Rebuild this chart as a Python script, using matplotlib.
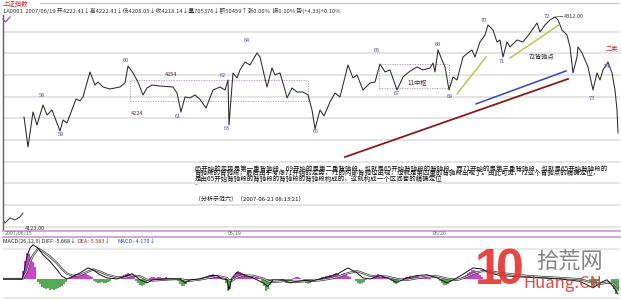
import matplotlib
matplotlib.use('Agg')
import matplotlib.pyplot as plt
from matplotlib.patches import Rectangle
from matplotlib.lines import Line2D

plt.rcParams['font.family'] = ['Noto Sans CJK SC', 'DejaVu Sans']

W, H = 621, 301

# intraday closes (bar position, price)
bars = [24, 28, 33, 37, 43, 47, 52, 55, 60, 63,
        67, 73, 76, 80, 83, 90, 95, 98, 103, 110,
        120, 125, 128, 133, 138, 143, 147, 152, 160, 173,
        177, 181, 185, 190, 195, 200, 206, 213, 220, 225,
        228, 229, 233, 237, 240, 245, 250, 257, 260, 267,
        272, 275, 280, 285, 287, 292, 297, 303, 308, 312,
        315, 320, 324, 330, 335, 340, 348, 353, 357, 363,
        370, 375, 380, 385, 390, 397, 403, 410, 417, 423,
        430, 433, 435, 438, 442, 445, 449, 453, 457, 463,
        468, 472, 475, 480, 485, 488, 493, 497, 500, 503,
        507, 510, 517, 523, 530, 537, 540, 545, 550, 555,
        558, 562, 567, 570, 573, 577, 578, 582, 585, 588,
        593, 597, 600, 603, 608, 612, 615, 617, 618]
close = [4221.6, 4194.5, 4226.1, 4214.4, 4232.4, 4223.4, 4227.9, 4220.7, 4208.9, 4218.9,
         4216.2, 4230.6, 4237.9, 4236.1, 4239.7, 4262.3, 4250.5, 4253.2, 4248.7, 4246.9,
         4248.7, 4252.3, 4267.7, 4261.4, 4253.2, 4241.5, 4247.8, 4250.5, 4249.6, 4248.7,
         4243.3, 4226.1, 4239.7, 4238.8, 4241.5, 4237.5, 4229.7, 4246.0, 4248.7, 4246.0,
         4255.0, 4214.4, 4261.4, 4256.9, 4264.1, 4271.3, 4268.6, 4279.5, 4275.8, 4248.7,
         4265.9, 4259.6, 4261.4, 4246.0, 4238.8, 4247.8, 4244.2, 4244.2, 4241.5, 4227.9,
         4210.8, 4227.9, 4222.5, 4235.2, 4243.3, 4239.7, 4268.6, 4256.9, 4259.6, 4246.0,
         4252.3, 4253.2, 4269.5, 4262.3, 4264.1, 4246.0, 4257.8, 4263.0, 4266.8, 4264.1,
         4265.9, 4270.4, 4262.3, 4282.2, 4273.1, 4266.8, 4246.0, 4257.8, 4255.0, 4275.8,
         4279.5, 4282.2, 4275.8, 4289.4, 4295.7, 4304.8, 4300.2, 4289.4, 4291.2, 4275.8,
         4289.4, 4284.9, 4291.2, 4289.4, 4297.5, 4306.6, 4298.4, 4304.8, 4309.3, 4312.0,
         4309.3, 4300.2, 4295.7, 4284.9, 4261.4, 4275.8, 4284.9, 4279.5, 4273.1, 4266.8,
         4246.0, 4261.4, 4255.0, 4264.1, 4271.3, 4261.4, 4246.0, 4227.9, 4207.1]

# small leftover segment at the bottom-left (4123 low)
prev_bars = [3, 5, 10, 15, 20, 23]
prev_close = [4128.5, 4125.8, 4130.3, 4128.5, 4131.2, 4134.8]

# wave labels: text, bar, price
wave_labels = [('58', 42, 4240.6), ('59', 61, 4206.2), ('60', 126, 4273.1),
               ('61', 178, 4221.6), ('62', 223, 4258.7), ('63', 227, 4210.8),
               ('64', 247, 4290.3), ('65', 316, 4208.9), ('66', 377, 4281.3),
               ('67', 397, 4242.4), ('68', 438, 4286.7), ('69', 450, 4239.7),
               ('70', 484, 4308.4), ('71', 502, 4272.2), ('72', 547, 4312.0),
               ('73', 592, 4237.9), ('74', 607, 4266.8)]

# zhongshu boxes: bar0, bar1, low, high
boxes = [(130, 308, 4236.1, 4255.0), (379, 449, 4247.8, 4269.5)]

# trend lines: bars, prices
red_line = ([345, 568], [4185.4, 4256.0])
blue_line = ([476, 566], [4233.4, 4263.2])
yellow_a = ([457, 486], [4242.4, 4275.8])
yellow_b = ([510, 559], [4274.9, 4304.8])

grid_prices = [4298.7, 4279.2, 4259.6, 4240.0, 4220.4, 4200.8, 4181.2, 4161.7, 4142.0, 4122.4]

# MACD lines
macd_x = [3, 22, 23, 27, 30, 33, 38, 43, 50, 57,
          62, 67, 73, 80, 88, 93, 100, 107, 117, 127,
          132, 140, 147, 153, 167, 180, 185, 190, 200, 210,
          217, 222, 227, 229, 232, 237, 243, 253, 263, 268,
          273, 283, 290, 297, 307, 310, 320, 330, 338, 348,
          357, 363, 370, 380, 387, 397, 407, 417, 427, 437,
          447, 457, 465, 473, 482, 490, 500, 520, 540, 560,
          580, 593, 600, 607, 613, 618]
diff = [0, 0, 1.0, 8.6, 11.8, 13.0, 11.8, 9.2, 6.7, 3.5,
        1.0, 0, 1.0, 2.3, 4.2, 3.5, 1.6, 0.4, 0, 1.3,
        2.0, -0.3, -1.5, -0.3, 0, 0, -1.5, -0.3, 0, 1.3,
        1.3, 0, -0.3, -4.1, 0.4, 2.5, 1.6, 0.4, -1.5, -2.8,
        -0.3, -0.3, -1.5, -0.9, -0.5, -0.9, 0, 1.0, 2.0, 4.2,
        2.3, 0.4, 0, 1.3, 0.4, -1.3, 0.4, 1.3, 1.6, 0.4,
        -1.5, 0.4, 2.3, 4.2, 3.8, 2.3, 1.3, 0.8, 0.4, 0,
        -0.9, -3.4, -1.5, -0.3, -2.8, -5.7]
dea = [0, 0, 0.2, 3.0, 6.5, 9.0, 11.5, 10.5, 8.5, 6.0,
       3.8, 2.0, 1.2, 1.5, 2.8, 3.6, 2.8, 1.6, 0.6, 0.7,
       1.3, 1.0, -0.3, -0.6, -0.2, 0, -0.5, -0.7, -0.2, 0.5,
       1.0, 0.8, 0.3, -0.5, -0.6, 0.6, 1.4, 1.2, 0.2, -0.8,
       -1.2, -0.8, -0.9, -1.1, -0.8, -0.8, -0.5, 0.1, 0.8, 2.2,
       3.0, 2.2, 1.2, 1.0, 0.9, 0.0, -0.4, 0.3, 0.9, 1.0,
       0.1, -0.4, 0.6, 2.0, 3.0, 2.9, 2.3, 1.4, 0.8, 0.4,
       -0.1, -1.5, -1.9, -1.4, -1.5, -3.2]

# MACD histogram clusters: first bar, values (one bar every 2 positions)
hist_start = [23, 38, 70, 94, 122, 136, 150, 178, 205, 226, 234, 262,
              282, 294, 304, 320, 356, 372, 392, 404, 440, 460, 590, 612]
hist_vals = [
    [3.0, 6.8, 9.9, 9.5, 8.4, 6.5, 4.6],
    [-1.1, -1.9, -3.0, -3.4, -3.8, -3.4, -4.2, -3.8, -4.2, -3.8, -3.4, -3.0, -2.7, -1.9, -1.1],
    [0.8, 1.1, 1.5, 1.9, 1.5, 1.1, 1.9, 2.3, 1.9, 1.5, 1.1, 0.8],
    [-0.8, -1.1, -1.5, -1.5, -1.1, -1.5, -1.5, -1.1, -0.8],
    [0.8, 1.5, 1.9, 2.3, 1.9, 1.5, 0.8],
    [-0.8, -1.5, -2.3, -2.7, -2.3, -1.5, -0.8],
    [0.4, 0.8, 0.8, 0.4, 0.8, 0.8, 0.4, 0.4, 0.8, 0.4, 0.4, 0.4],
    [-0.8, -1.9, -2.7, -2.7, -1.9, -0.8],
    [0.4, 0.8, 1.1, 1.5, 1.9, 1.5, 1.1, 0.8, 0.4],
    [-1.5, -4.6, -3.8, -1.1],
    [1.1, 2.3, 3.0, 2.7, 2.3, 1.9, 1.1, 0.8, 0.8, 0.8, 0.4, 0.8, 0.4],
    [-1.1, -2.7, -4.6, -3.8, -2.3, -0.8],
    [-0.8, -1.1, -1.5, -1.5, -1.1, -0.8],
    [0.4, 0.8, 0.8, 0.4],
    [-0.8, -1.5, -1.9, -1.5, -0.8],
    [0.4, 0.8, 0.8, 1.1, 1.1, 1.5, 1.5, 1.9, 2.3, 1.9, 1.5, 1.9, 2.3, 1.9, 1.1, 0.8],
    [-0.8, -1.5, -1.9, -1.5, -1.1, -0.4],
    [0.4, 0.8, 1.5, 1.9, 1.5, 1.1, 0.8, 0.4],
    [-0.8, -1.5, -1.9, -1.1, -0.4],
    [0.4, 0.8, 0.8, 1.1, 0.8, 0.8, 1.1, 1.1, 0.8, 0.8, 1.1, 0.8, 0.4, 0.4],
    [-0.8, -1.5, -2.3, -2.3, -1.9, -1.1, -0.4],
    [0.4, 0.8, 1.1, 1.5, 2.3, 2.7, 3.4, 3.4, 3.0, 2.3, 1.5, 0.8],
    [-1.1, -2.3, -3.0, -1.9, -0.8],
    [-1.9, -3.8, -5.7, -4.6],
]

para = ["65开始的走势是第一重背驰段，69开始的是第二重背驰段，也就是65开始背驰段的背驰段，而71开始的是第三重背驰段，也就是65开始背驰段的",
        "背驰段的背驰段，最后由于考虑71开始的走势，71的内部背驰也出现，也就是第四重的背驰段出现了。由此可见，72这个背驰点的精确定位，",
        "是由65开始背驰段的背驰段的背驰段的背驰段构成的，这就构成一个区间套的精确定位"]
stamp = "（分析示范六）（2007-06-21 08:13:21）"
info = "1A0001  2007/06/19 开4222.41↓高4222.41↓低4208.05↓收4218.14↓量705376↓额50459↑涨0.00%  振0.10% 势(+4.33)+0.10%"
dates = [('2007/06/15', 5), ('06/19', 228), ('06/20', 433)]


def rect(l, t, r, b):
    return [l / W, 1 - b / H, (r - l) / W, (b - t) / H]


def ft(x, y, s, **kw):
    return fig.text(x / W, 1 - y / H, s, **kw)


def fline(xs, ys, **kw):
    fig.add_artist(Line2D([x / W for x in xs], [1 - y / H for y in ys],
                          transform=fig.transFigure, **kw))


fig = plt.figure(figsize=(W / 100, H / 100), dpi=100, facecolor='white')

# ---- price panel
ax = fig.add_axes(rect(3, 15, 620, 230))
ax.set_xlim(3, 620)
ax.set_ylim(4119.4, 4313.8)
ax.set_xticks([])
ax.set_yticks([])
for s in ['top', 'right', 'bottom']:
    ax.spines[s].set_visible(False)
ax.spines['left'].set_color('#6a5a6a')
ax.spines['left'].set_linewidth(1.0)
for g in grid_prices:
    ax.axhline(g, color='#e2e2e2', lw=1.3, zorder=0)

ax.plot(prev_bars, prev_close, color='#333333', lw=0.7)
ax.plot(bars, close, color='#2a2a2a', lw=0.75)

for b0, b1, lo, hi in boxes:
    ax.add_patch(Rectangle((b0, lo), b1 - b0, hi - lo, fill=False,
                           ec='#b08ab0', lw=0.6, ls=(0, (1.5, 1.5))))

ax.plot(*red_line, color='#8b1a1a', lw=1.3)
ax.plot(*blue_line, color='#3344cc', lw=1.1)
ax.plot(*yellow_a, color='#b8c040', lw=1.0)
ax.plot(*yellow_b, color='#b8c040', lw=1.0)

blue = '#4a4aa8'
for t, b, p in wave_labels:
    ax.text(b, p, t, ha='center', va='center', fontsize=4, color=blue)
ax.text(171, 4259.6, '4254', ha='center', va='center', fontsize=4, color='#4a2020')
ax.text(137, 4224.3, '4224', ha='center', va='center', fontsize=4, color='#4a2020')
ax.plot([556, 563], [4312.0, 4312.6], color='#333333', lw=0.5)
ax.text(564, 4312.6, '4312.00', ha='left', va='center', fontsize=4, color='#333333')
ax.text(612, 4284.0, '二卖', ha='center', va='center', fontsize=4.5, color='#cc2222')
ax.text(542, 4275.8, '72背驰点', ha='center', va='center', fontsize=4.5, color='#222222')
ax.text(417, 4253.2, '11中枢', ha='center', va='center', fontsize=4.5, color='#5a2020')
ax.text(25, 4120.5, '4123.00', ha='left', va='center', fontsize=4, color='#333333')

# ---- header
ft(3, 4, '上证指数', fontsize=4.6, color='#cc2222', va='center')
ft(3, 11, info, fontsize=4.2, color='#333333', va='center')
fline([40, 618], [2.5, 2.5], color='#d8b4d8', lw=0.9)
fline([3, 5.5, 10], [19, 22, 17], color='#9a4aa8', lw=0.9)

# ---- commentary
for i, line in enumerate(para):
    ft(195, 168.5 + 5.5 * i, line, fontsize=4.65, color='#111111', va='center')
ft(195, 185, '--', fontsize=4, color='#111111', va='center')
ft(195, 198, stamp, fontsize=4.3, color='#111111', va='center')

# ---- date band
fline([3, 620], [230.5, 230.5], color='#c9a2d0', lw=1.3)
fline([3, 620], [236.5, 236.5], color='#c9a2d0', lw=1.3)
for t, x in dates:
    ft(x, 233.5, t, fontsize=3.8, color='#4a6a4a', va='center')

# ---- MACD panel
mx = fig.add_axes(rect(3, 243, 620, 301))
mx.set_xlim(3, 620)
mx.set_ylim(-8.4, 13.7)
mx.set_xticks([])
mx.set_yticks([])
for s in mx.spines.values():
    s.set_visible(False)
for g in [11.4, -7.2]:
    mx.axhline(g, color='#e4e4e4', lw=1.2, zorder=0)

for st, vals in zip(hist_start, hist_vals):
    for i, v in enumerate(vals):
        c = '#cc44cc' if v > 0 else '#55aa55'
        mx.bar(st + 2 * i, v, width=1.3, color=c, lw=0)

mx.plot(macd_x, dea, color='#333333', lw=1.5)
mx.plot(macd_x, dea, color='white', lw=0.5)
mx.plot(macd_x, diff, color='#111111', lw=0.7)

ft(3, 241, 'MACD(26,12,9) DIFF:-5.668↓', fontsize=4, color='#222222', va='center')
ft(77, 241, 'DEA:-5.583↓', fontsize=4, color='#8b2a2a', va='center')
ft(117, 241, 'MACD:-4.170↓', fontsize=4, color='#2a44cc', va='center')

# ---- watermark
ft(475, 271, '1', fontsize=36, fontweight='bold', family='Liberation Sans',
   color='#e5322d', va='center', alpha=0.9)
ft(496, 271, '0', fontsize=36, fontweight='bold', family='Liberation Sans',
   color='#e5322d', va='center', alpha=0.9)
ft(536, 262, '拾荒网', fontsize=16, color='#777777', va='center', alpha=0.9)
ft(523, 283, 'Huang.CN', fontsize=12, color='#e5322d', va='center', alpha=0.9)

fig.savefig('out.png', dpi=100, facecolor='white')
